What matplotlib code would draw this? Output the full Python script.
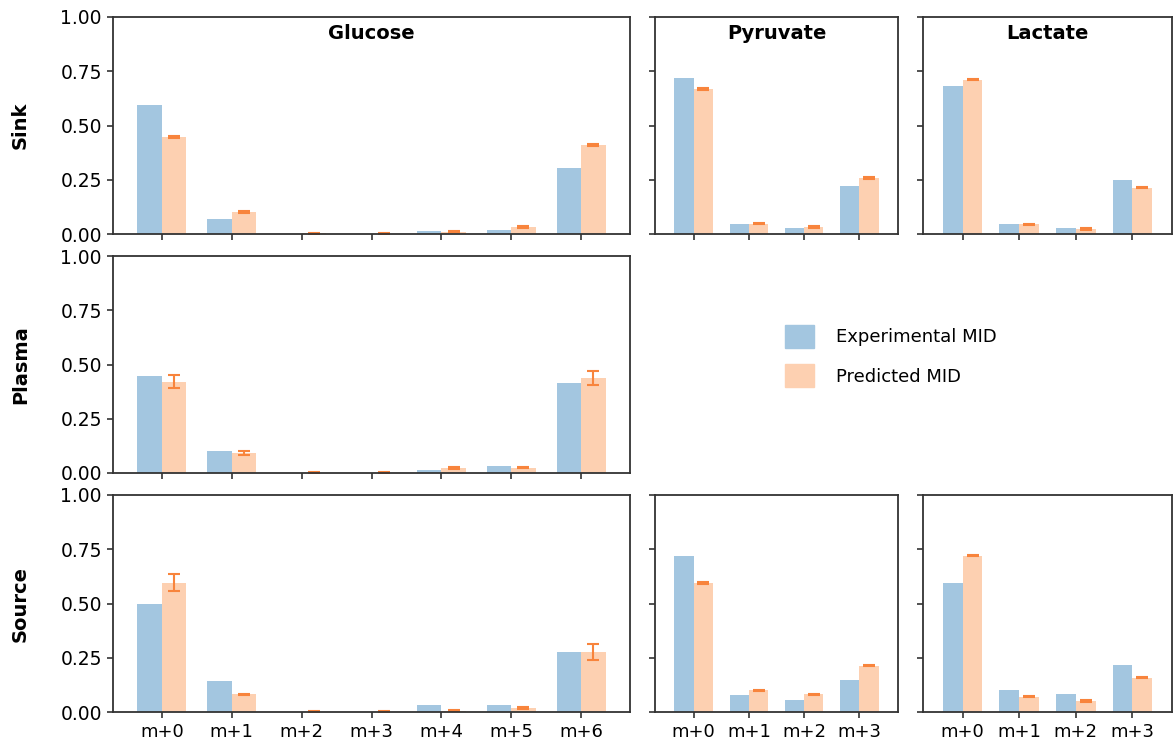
import matplotlib
matplotlib.use("Agg")
import matplotlib.pyplot as plt
import matplotlib.patches as mpatches
import numpy as np

plt.rcParams['font.family'] = ['DejaVu Sans']

glc_labels = ['m+0', 'm+1', 'm+2', 'm+3', 'm+4', 'm+5', 'm+6']
c3_labels = ['m+0', 'm+1', 'm+2', 'm+3']

# sink
sink_glc_exp = [0.594, 0.070, 0.0, 0.0, 0.013, 0.020, 0.303]
sink_glc_pred = [0.447, 0.101, 0.003, 0.002, 0.011, 0.032, 0.410]
sink_glc_err = [0.003, 0.003, 0.002, 0.002, 0.003, 0.003, 0.003]
sink_pyr_exp = [0.720, 0.046, 0.026, 0.221]
sink_pyr_pred = [0.668, 0.047, 0.032, 0.258]
sink_pyr_err = [0.003, 0.003, 0.003, 0.003]
sink_lac_exp = [0.682, 0.046, 0.026, 0.247]
sink_lac_pred = [0.711, 0.044, 0.023, 0.214]
sink_lac_err = [0.003, 0.003, 0.003, 0.003]

# plasma
plasma_glc_exp = [0.447, 0.100, 0.0, 0.0, 0.012, 0.031, 0.416]
plasma_glc_pred = [0.421, 0.092, 0.002, 0.002, 0.024, 0.024, 0.439]
plasma_glc_err = [0.030, 0.008, 0.001, 0.001, 0.004, 0.003, 0.032]

# source
source_glc_exp = [0.498, 0.144, 0.0, 0.0, 0.031, 0.031, 0.276]
source_glc_pred = [0.596, 0.081, 0.002, 0.002, 0.006, 0.018, 0.276]
source_glc_err = [0.040, 0.004, 0.001, 0.001, 0.002, 0.003, 0.036]
source_pyr_exp = [0.720, 0.077, 0.057, 0.146]
source_pyr_pred = [0.594, 0.100, 0.082, 0.213]
source_pyr_err = [0.003, 0.003, 0.003, 0.003]
source_lac_exp = [0.594, 0.101, 0.083, 0.215]
source_lac_pred = [0.720, 0.071, 0.051, 0.158]
source_lac_err = [0.003, 0.003, 0.003, 0.003]

exp_color = '#a3c6e0'
pred_color = '#fdd0b1'
err_color = '#f8843c'
spine_color = '#333333'
W, H = 1175.0, 747.0
width = 0.35


def make_ax(fig, x0, y0, x1, y1):
    return fig.add_axes([x0 / W, 1 - y1 / H, (x1 - x0) / W, (y1 - y0) / H])


def bars(ax, labels, exp, pred, err, show_x=True, show_y=True):
    x = np.arange(len(labels))
    ax.bar(x - width / 2, exp, width, color=exp_color, edgecolor='none')
    ax.bar(x + width / 2, pred, width, color=pred_color, edgecolor='none')
    ax.errorbar(x + width / 2, pred, yerr=err, fmt='none', ecolor=err_color,
                elinewidth=1.5, capsize=4, capthick=1.5)
    ax.set_xlim(-0.7, len(labels) - 0.3)
    ax.set_ylim(0, 1)
    ax.set_yticks([0, 0.25, 0.5, 0.75, 1.0])
    ax.set_xticks(x)
    if show_x:
        ax.set_xticklabels(labels, fontsize=13)
    else:
        ax.set_xticklabels([])
    if not show_y:
        ax.set_yticklabels([])
    else:
        ax.set_yticklabels(['0.00', '0.25', '0.50', '0.75', '1.00'], fontsize=13.5)
    for s in ax.spines.values():
        s.set_color(spine_color)
        s.set_linewidth(1.3)
    ax.tick_params(length=4, width=1.2, color=spine_color, pad=4)


fig = plt.figure(figsize=(11.75, 7.47), dpi=100)

rows = [(17, 234), (256, 473), (495, 712)]

ax = make_ax(fig, 113, rows[0][0], 630, rows[0][1])
bars(ax, glc_labels, sink_glc_exp, sink_glc_pred, sink_glc_err, show_x=False)
ax.text(0.5, 0.925, 'Glucose', transform=ax.transAxes, ha='center', va='center',
        fontsize=14, fontweight='bold')
ax.set_ylabel('Sink', fontsize=14, fontweight='bold', labelpad=22)

ax = make_ax(fig, 655, rows[0][0], 898, rows[0][1])
bars(ax, c3_labels, sink_pyr_exp, sink_pyr_pred, sink_pyr_err, show_x=False, show_y=False)
ax.text(0.5, 0.925, 'Pyruvate', transform=ax.transAxes, ha='center', va='center',
        fontsize=14, fontweight='bold')

ax = make_ax(fig, 923, rows[0][0], 1172, rows[0][1])
bars(ax, c3_labels, sink_lac_exp, sink_lac_pred, sink_lac_err, show_x=False, show_y=False)
ax.text(0.5, 0.925, 'Lactate', transform=ax.transAxes, ha='center', va='center',
        fontsize=14, fontweight='bold')

ax = make_ax(fig, 113, rows[1][0], 630, rows[1][1])
bars(ax, glc_labels, plasma_glc_exp, plasma_glc_pred, plasma_glc_err, show_x=False)
ax.set_ylabel('Plasma', fontsize=14, fontweight='bold', labelpad=22)

ax = make_ax(fig, 113, rows[2][0], 630, rows[2][1])
bars(ax, glc_labels, source_glc_exp, source_glc_pred, source_glc_err)
ax.set_ylabel('Source', fontsize=14, fontweight='bold', labelpad=22)

ax = make_ax(fig, 655, rows[2][0], 898, rows[2][1])
bars(ax, c3_labels, source_pyr_exp, source_pyr_pred, source_pyr_err, show_y=False)

ax = make_ax(fig, 923, rows[2][0], 1172, rows[2][1])
bars(ax, c3_labels, source_lac_exp, source_lac_pred, source_lac_err, show_y=False)

handles = [mpatches.Patch(color=exp_color, label='Experimental MID'),
           mpatches.Patch(color=pred_color, label='Predicted MID')]
fig.legend(handles=handles, loc='center left', bbox_to_anchor=(769 / W, 1 - 356 / H),
           frameon=False, fontsize=13, handlelength=1.6, handleheight=1.6,
           handletextpad=1.2, labelspacing=0.9)

fig.savefig('out.png', dpi=100)
